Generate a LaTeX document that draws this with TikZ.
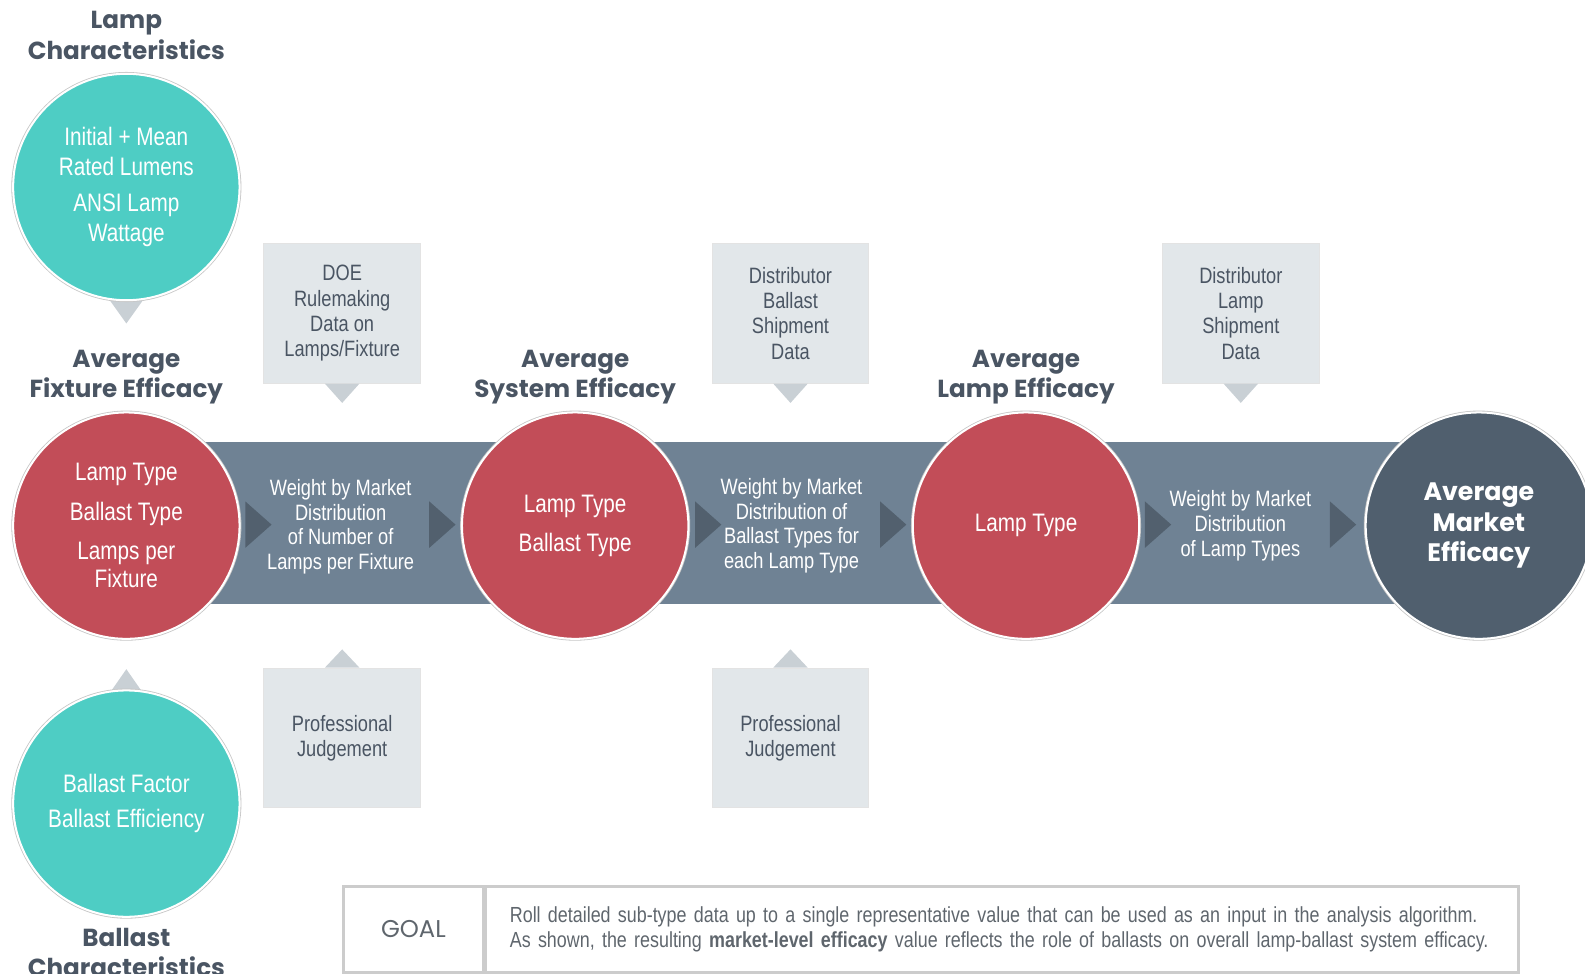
\documentclass[tikz,border=0pt]{standalone}
\usepackage{fontspec}
\setmainfont{Liberation Sans}[FakeStretch=0.82]
\newfontfamily\titlefont{Poppins}
\usetikzlibrary{shapes.geometric,calc}
\definecolor{tealc}{HTML}{4ECDC4}
\definecolor{redc}{HTML}{C24D58}
\definecolor{bandc}{HTML}{6F8294}
\definecolor{darkc}{HTML}{505F6E}
\definecolor{chevc}{HTML}{52606E}
\definecolor{boxc}{HTML}{E2E7EA}
\definecolor{tipc}{HTML}{C9D0D5}
\definecolor{inkc}{HTML}{4A5563}
\definecolor{goalc}{HTML}{5F666D}
\tikzset{
  bubble/.style={circle, minimum size=112pt, inner sep=0pt, align=center, text=white,
    preaction={draw=gray!45, line width=1.8pt}, draw=white, line width=1pt,
    font=\fontsize{12.5}{14}\selectfont},
  heading/.style={align=center, text=inkc, font=\titlefont\bfseries\fontsize{12.2}{15}\selectfont},
  weight/.style={align=center, text=white, font=\fontsize{11}{12.25}\selectfont},
  infobox/.style={rectangle, fill=boxc, draw=gray!22, line width=0.6pt, minimum width=77.5pt,
    minimum height=69pt, align=center, text=inkc, font=\fontsize{11}{12.5}\selectfont},
  chev/.style={isosceles triangle, isosceles triangle stretches, fill=chevc, inner sep=0pt,
    minimum height=13pt, minimum width=23pt},
  goalcell/.style={rectangle, draw=gray!40, line width=1.2pt, minimum height=42.5pt}
}

\begin{document}
\begin{tikzpicture}[x=0.5pt,y=-0.5pt]
  \clip (0,0) rectangle (1568,963);
  % the band behind the chain
  \fill[bandc] (200,437) rectangle (1420,598);
  \foreach \x [count=\i] in {253,435,698,881,1143,1326}
    \node[chev] (chev\i) at (\x,519) {};

  % pointers of the two characteristic circles
  \coordinate (lampc) at (125,185);
  \coordinate (ballc) at (125,795);
  \fill[tipc] ($(lampc)+(-25,100)$) -- ($(lampc)+(25,100)$) -- ($(lampc)+(0,135)$) -- cycle;
  \fill[tipc] ($(ballc)+(-23,-100)$) -- ($(ballc)+(23,-100)$) -- ($(ballc)+(0,-133)$) -- cycle;

  \node[bubble, fill=tealc, font=\fontsize{12.5}{15}\selectfont] (lampcirc) at (lampc)
    {Initial + Mean\\Rated Lumens\\[2.5pt]ANSI Lamp\\Wattage};
  \node[bubble, fill=tealc, font=\fontsize{12.5}{15}\selectfont] (ballcirc) at (ballc)
    {Ballast Factor\\[2.5pt]Ballast Efficiency};

  \node[bubble, fill=redc] (fixture) at (125,520)
    {Lamp Type\\[5.5pt]Ballast Type\\[5.5pt]Lamps per\\Fixture};
  \node[bubble, fill=redc] (system) at (569,520) {Lamp Type\\[5.5pt]Ballast Type};
  \node[bubble, fill=redc] (lampeff) at (1015,520) {Lamp Type};
  \node[bubble, fill=darkc, font=\titlefont\bfseries\fontsize{12.5}{15}\selectfont] (market) at (1463,520)
    {Average\\Market\\Efficacy};

  \node[weight] (wfix) at (337,521) {Weight by Market\\Distribution\\of Number of\\Lamps per Fixture};
  \node[weight] (wsys) at (783,520) {Weight by Market\\Distribution of\\Ballast Types for\\each Lamp Type};
  \node[weight] (wlamp) at (1227,520) {Weight by Market\\Distribution\\of Lamp Types};

  % headings
  \node[heading] (hlamp) at (125,35) {Lamp\\Characteristics};
  \node[heading] (hfix) at (125,373) {Average\\Fixture Efficacy};
  \node[heading] (hsys) at (569,373) {Average\\System Efficacy};
  \node[heading] (hlampe) at (1015,373) {Average\\Lamp Efficacy};
  \node[heading] (hball) at (125,942) {Ballast\\Characteristics};

  % data sources above
  \node[infobox] (doe) at (338.5,310) {DOE\\Rulemaking\\Data on\\Lamps/Fixture};
  \node[infobox] (distb) at (782,310) {Distributor\\Ballast\\Shipment\\Data};
  \node[infobox] (distl) at (1227.5,310) {Distributor\\Lamp\\Shipment\\Data};
  \foreach \b in {doe,distb,distl}
    \fill[tipc] ($(\b.south)+(-17,0)$) -- ($(\b.south)+(17,0)$) -- ($(\b.south)+(0,19)$) -- cycle;

  % judgement below
  \node[infobox] (judgeA) at (338.5,730) {Professional\\Judgement};
  \node[infobox] (judgeB) at (782,730) {Professional\\Judgement};
  \foreach \b in {judgeA,judgeB}
    \fill[tipc] ($(\b.north)+(-17,0)$) -- ($(\b.north)+(17,0)$) -- ($(\b.north)+(0,-18)$) -- cycle;

  % goal
  \node[goalcell, minimum width=69pt, text=goalc, font=\titlefont\fontsize{12}{14}\selectfont]
    (goal) at (409,919.5) {GOAL};
  \node[goalcell, anchor=west, text width=487pt, inner xsep=12pt, align=left, text=goalc,
    font=\fontsize{10.8}{12.5}\selectfont] (goaltext) at (goal.east)
    {Roll detailed sub-type data up to a single representative value that can be used as an input in the analysis algorithm.\\
     As shown, the resulting \textbf{market-level efficacy} value reflects the role of ballasts on overall lamp-ballast system efficacy.};
\end{tikzpicture}
\end{document}
